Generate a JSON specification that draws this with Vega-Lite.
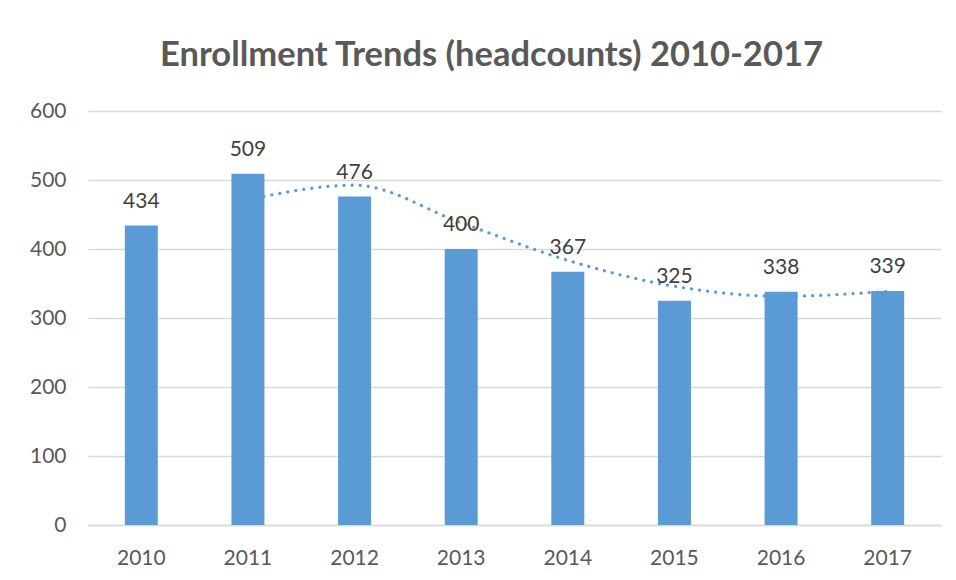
{
  "$schema": "https://vega.github.io/schema/vega-lite/v6.json",
  "width": 853,
  "height": 414,
  "autosize": {"type": "none"},
  "padding": {"left": 88, "top": 111, "right": 15, "bottom": 55},
  "background": "white",
  "config": {"view": {"stroke": null}, "font": "Lato"},
  "title": {
    "text": "Enrollment Trends (headcounts) 2010-2017",
    "font": "Lato",
    "fontSize": 34.5,
    "fontWeight": "bold",
    "color": "#595959",
    "anchor": "middle",
    "dx": -23,
    "offset": 27
  },
  "data": {
    "values": [
      {"year": "2010", "headcount": 434, "trend": null},
      {"year": "2011", "headcount": 509, "trend": 471.5},
      {"year": "2012", "headcount": 476, "trend": 492.5},
      {"year": "2013", "headcount": 400, "trend": 438},
      {"year": "2014", "headcount": 367, "trend": 383.5},
      {"year": "2015", "headcount": 325, "trend": 346},
      {"year": "2016", "headcount": 338, "trend": 331.5},
      {"year": "2017", "headcount": 339, "trend": 338.5}
    ]
  },
  "encoding": {
    "x": {
      "field": "year",
      "type": "nominal",
      "scale": {"paddingInner": 0, "paddingOuter": 0},
      "axis": {
        "title": null,
        "labelAngle": 0,
        "labelFont": "Lato",
        "labelFontSize": 21,
        "labelColor": "#595959",
        "labelPadding": 22,
        "ticks": false,
        "domain": true,
        "domainColor": "#d9d9d9",
        "domainWidth": 1.5
      }
    }
  },
  "layer": [
    {
      "mark": {
        "type": "line",
        "interpolate": "monotone",
        "color": "#5b9bd5",
        "strokeWidth": 3.2,
        "strokeDash": [0.1, 8],
        "strokeCap": "round"
      },
      "transform": [{"filter": "datum.trend != null"}],
      "encoding": {
        "y": {"field": "trend", "type": "quantitative"}
      }
    },
    {
      "mark": {"type": "bar", "width": 33, "color": "#5b9bd5"},
      "encoding": {
        "y": {
          "field": "headcount",
          "type": "quantitative",
          "scale": {"domain": [0, 600]},
          "axis": {
            "title": null,
            "values": [0, 100, 200, 300, 400, 500, 600],
            "labelFont": "Lato",
            "labelFontSize": 21,
            "labelColor": "#595959",
            "labelPadding": 22,
            "ticks": false,
            "domain": false,
            "grid": true,
            "gridColor": "#d9d9d9",
            "gridWidth": 1.5
          }
        }
      }
    },
    {
      "mark": {
        "type": "text",
        "baseline": "bottom",
        "dy": -14,
        "font": "Lato",
        "fontSize": 21,
        "color": "#404040"
      },
      "encoding": {
        "y": {"field": "headcount", "type": "quantitative"},
        "text": {"field": "headcount", "type": "quantitative"}
      }
    }
  ]
}
